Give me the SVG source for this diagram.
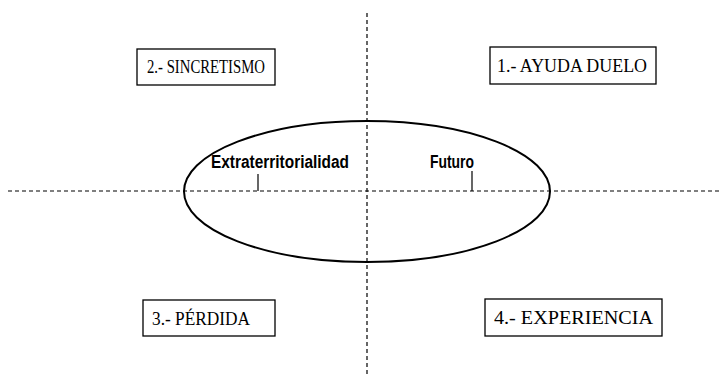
<svg xmlns="http://www.w3.org/2000/svg" width="721" height="375" viewBox="0 0 721 375">
<style>
.box{fill:#fff;stroke:#000;stroke-width:1.3}
.lbl{font-family:"Liberation Serif","Times New Roman","DejaVu Serif",serif;font-size:18px;fill:#000}
.cat{font-family:"Liberation Sans",Arial,sans-serif;font-weight:bold;font-size:18px;fill:#000}
.axis{stroke:#000;stroke-width:1.2;stroke-dasharray:4,3;fill:none}
.tick{stroke:#000;stroke-width:1.2}
</style>
<rect width="721" height="375" fill="#fff"/>
<g id="connectors">
<line class="axis" x1="367" y1="13" x2="367" y2="375"/>
<line class="axis" x1="8" y1="191" x2="721" y2="191"/>
<line class="tick" x1="258" y1="174" x2="258" y2="191"/>
<line class="tick" x1="472" y1="171" x2="472" y2="191"/>
</g>
<g id="ellipse">
<ellipse cx="367" cy="191.5" rx="183" ry="70.5" fill="none" stroke="#000" stroke-width="2"/>
</g>
<g id="extraterritorialidad">
<text class="cat" x="211" y="168" textLength="138" lengthAdjust="spacingAndGlyphs">Extraterritorialidad</text>
</g>
<g id="futuro">
<text class="cat" x="430" y="168" textLength="44" lengthAdjust="spacingAndGlyphs">Futuro</text>
</g>
<g id="n2">
<rect class="box" x="137" y="49" width="138" height="36"/>
<text class="lbl" font-family="Liberation Serif, serif" x="147" y="73" textLength="118" lengthAdjust="spacingAndGlyphs">2.- SINCRETISMO</text>
</g>
<g id="n1">
<rect class="box" x="490" y="47" width="166" height="37"/>
<text class="lbl" font-family="Liberation Serif, serif" x="497" y="72" textLength="150" lengthAdjust="spacingAndGlyphs">1.- AYUDA DUELO</text>
</g>
<g id="n3">
<rect class="box" x="143" y="300" width="132" height="36"/>
<text class="lbl" font-family="Liberation Serif, serif" x="152" y="325" textLength="98" lengthAdjust="spacingAndGlyphs">3.- PÉRDIDA</text>
</g>
<g id="n4">
<rect class="box" x="485" y="299" width="177" height="37"/>
<text class="lbl" font-family="Liberation Serif, serif" x="494" y="324" textLength="159" lengthAdjust="spacingAndGlyphs">4.- EXPERIENCIA</text>
</g>
</svg>
